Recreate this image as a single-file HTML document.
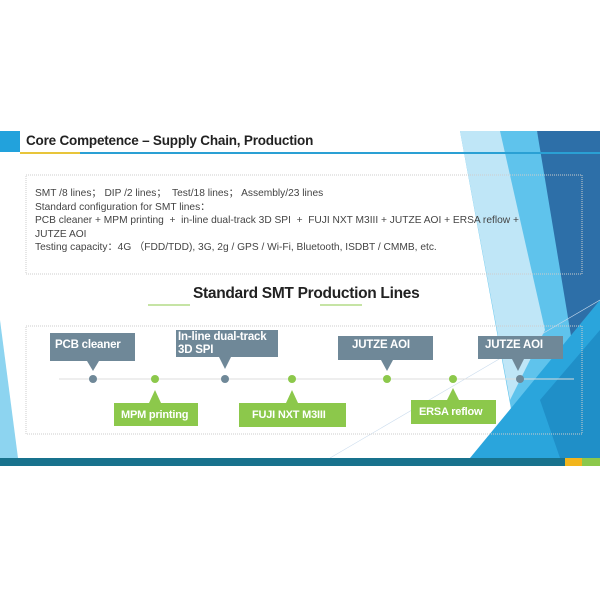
<!DOCTYPE html>
<html><head><meta charset="utf-8"><style>
body{margin:0;width:600px;height:600px;background:#fff;position:relative;overflow:hidden;font-family:"Liberation Sans","Noto Sans CJK SC",sans-serif}
.a{position:absolute}
.g{background:#6f8898;color:#fff;font-weight:bold;font-size:11.5px;line-height:13px;padding:3px 4px;box-sizing:border-box;white-space:nowrap;letter-spacing:-0.2px}
.n{background:#8cc84b;color:#fff;font-weight:bold;font-size:11px;padding:0 8px;box-sizing:border-box;display:flex;align-items:center;white-space:nowrap;letter-spacing:-0.2px}
.dot{position:absolute;width:8px;height:8px;border-radius:50%}
</style></head><body>
<svg class="a" style="left:0;top:0" width="600" height="600">
<polygon points="0,320 18,458 0,458" fill="#8dd4f0"/>
<polygon points="460,131 537,131 600,430 600,458 520,458" fill="#5fc3ec"/>
<polygon points="460,131 500,131 545,330 510,400" fill="#bfe6f7"/>
<polygon points="537,131 600,131 600,360 580,390" fill="#2d6fa8"/>
<polygon points="470,458 600,300 600,458" fill="#2aa5dc"/>
<polygon points="540,400 600,330 600,458 560,458" fill="#1f8fc8"/>
<line x1="330" y1="458" x2="600" y2="300" stroke="#cde" stroke-width="0.6"/>
<rect x="0" y="131" width="20" height="21" fill="#22a2dc"/>
<rect x="20" y="152" width="580" height="2" fill="#2aa0d4"/>
<rect x="20" y="152" width="60" height="2" fill="#e8c53a"/>
<rect x="0" y="458" width="600" height="8" fill="#18728d"/>
<rect x="565" y="458" width="17" height="8" fill="#f2b51c"/>
<rect x="582" y="458" width="18" height="8" fill="#8cc84b"/>
<rect x="26" y="175" width="556" height="99" fill="none" stroke="#ccc" stroke-dasharray="1,1"/>
<rect x="26" y="326" width="556" height="108" fill="none" stroke="#ccc" stroke-dasharray="1,1"/>
<line x1="148" y1="305" x2="190" y2="305" stroke="#8cc84b"/>
<line x1="320" y1="305" x2="362" y2="305" stroke="#8cc84b"/>
<line x1="59" y1="379" x2="574" y2="379" stroke="#ddd"/>
<polygon points="87,361 99,361 93,371" fill="#6f8898"/>
<polygon points="219,357 231,357 225,369" fill="#6f8898"/>
<polygon points="381,360 393,360 387,371" fill="#6f8898"/>
<polygon points="512,359 524,359 518,371" fill="#6f8898"/>
<polygon points="149,403 161,403 155,390" fill="#8cc84b"/>
<polygon points="286,403 298,403 292,390" fill="#8cc84b"/>
<polygon points="447,400 459,400 453,388" fill="#8cc84b"/>
</svg>
<div class="a" style="left:26px;top:133px;font-size:13.5px;font-weight:bold;color:#222;letter-spacing:-0.2px">Core Competence – Supply Chain, Production</div>
<div class="a" style="left:35px;top:187px;font-size:10.2px;line-height:13.6px;color:#444;width:540px">SMT /8 lines； DIP /2 lines；&nbsp; Test/18 lines； Assembly/23 lines<br>Standard configuration for SMT lines：<br>PCB cleaner + MPM printing&nbsp; +&nbsp; in-line dual-track 3D SPI&nbsp; +&nbsp; FUJI NXT M3III + JUTZE AOI + ERSA reflow +<br>JUTZE AOI<br>Testing capacity：4G （FDD/TDD), 3G, 2g / GPS / Wi-Fi, Bluetooth, ISDBT / CMMB, etc.</div>
<div class="a" style="left:193px;top:285px;font-size:15.5px;font-weight:bold;color:#222;letter-spacing:-0.3px">Standard SMT Production Lines</div>
<div class="a g" style="left:50px;top:333px;width:85px;height:28px;padding-top:6px;padding-left:5px">PCB cleaner</div>
<div class="a g" style="left:176px;top:330px;width:102px;height:27px;line-height:12.5px;padding-top:1px;padding-left:2px">In-line dual-track<br>3D SPI</div>
<div class="a g" style="left:338px;top:336px;width:95px;height:24px;padding-top:3px;padding-left:14px">JUTZE AOI</div>
<div class="a g" style="left:478px;top:336px;width:85px;height:23px;padding-top:3px;padding-left:7px">JUTZE AOI</div>
<div class="a n" style="left:114px;top:403px;width:84px;height:23px;padding-left:7px">MPM printing</div>
<div class="a n" style="left:239px;top:403px;width:107px;height:24px;padding-left:13px">FUJI NXT M3III</div>
<div class="a n" style="left:411px;top:400px;width:85px;height:24px;padding-left:8px">ERSA reflow</div>
<div class="dot" style="left:89px;top:375px;background:#6f8898"></div>
<div class="dot" style="left:151px;top:375px;background:#8cc84b"></div>
<div class="dot" style="left:221px;top:375px;background:#6f8898"></div>
<div class="dot" style="left:288px;top:375px;background:#8cc84b"></div>
<div class="dot" style="left:383px;top:375px;background:#8cc84b"></div>
<div class="dot" style="left:449px;top:375px;background:#8cc84b"></div>
<div class="dot" style="left:516px;top:375px;background:#6f8898"></div>
</body></html>
